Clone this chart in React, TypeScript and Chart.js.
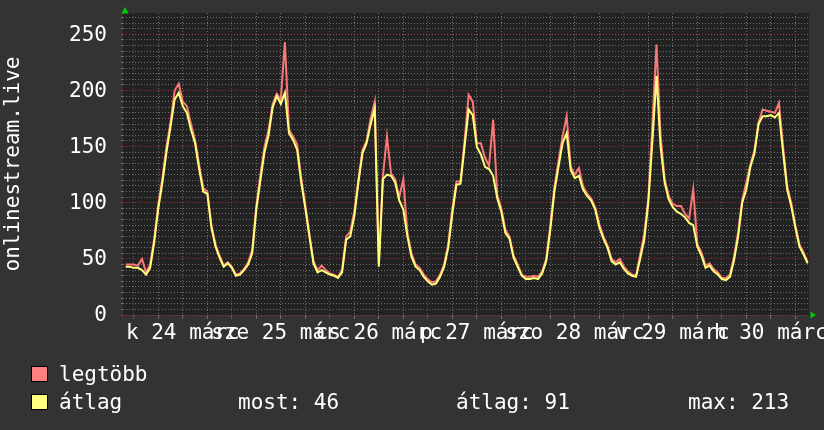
import React, { useEffect, useRef } from 'react';
import { Chart, registerables } from 'chart.js';

Chart.register(...registerables);

// ---- data (hourly samples, hour 0 = 24 March 00:00) ----
const FIRST_HOUR = -2;
const X_MIN = -2.65;
const X_MAX = 165.35;
const Y_MAX = 269;

const dayLabels = ['k 24 márc', 'sze 25 márc', 'cs 26 márc', 'p 27 márc', 'szo 28 márc', 'v 29 márc', 'h 30 márc'];
const dayNoonHours = [12, 36, 60, 84, 108, 132, 156];
const yLabelValues = [0, 50, 100, 150, 200, 250];

const avgValues = [
  43, 43, 42, 42, 40, 36, 42, 65, 95, 118, 145, 168,
  192, 198, 186, 180, 165, 153, 130, 110, 108, 78, 61, 51,
  43, 46, 42, 35, 36, 40, 45, 55, 94, 120, 145, 160,
  185, 195, 188, 198, 162, 156, 147, 118, 95, 70, 46, 38,
  40, 38, 36, 35, 33, 38, 67, 70, 88, 118, 144, 153,
  170, 184, 43, 121, 125, 124, 118, 102, 94, 70, 52, 43,
  40, 34, 30, 27, 28, 34, 43, 60, 90, 116, 117, 150,
  183, 178, 150, 143, 132, 130, 124, 104, 92, 73, 68, 51,
  43, 35, 32, 32, 33, 32, 37, 48, 76, 110, 132, 153,
  162, 129, 122, 124, 112, 106, 102, 94, 78, 68, 60, 48,
  45, 47, 41, 37, 35, 34, 50, 67, 100, 155, 213, 150,
  118, 103, 96, 92, 90, 87, 82, 80, 61, 53, 42, 44,
  39, 36, 32, 31, 34, 49, 70, 100, 112, 132, 144, 170,
  177, 177, 178, 176, 180, 145, 112, 97, 78, 61, 54, 46,
];

const maxValues = [
  45, 45, 45, 44, 50, 38, 45, 68, 99, 122, 150, 172,
  200, 206, 190, 186, 170, 156, 134, 113, 110, 80, 63, 53,
  44, 47, 43, 36, 37, 41, 47, 58, 97, 125, 150, 165,
  188, 197, 192, 243, 165, 159, 152, 122, 98, 72, 48, 40,
  44, 40, 37, 36, 34, 40, 70, 74, 92, 121, 147, 155,
  175, 190, 45, 124, 159, 126, 121, 105, 121, 73, 55, 45,
  42, 36, 32, 29, 30, 36, 45, 63, 95, 119, 119, 155,
  196, 190, 153, 153, 140, 133, 174, 107, 95, 76, 70, 53,
  45, 36, 34, 34, 35, 34, 39, 50, 80, 114, 137, 159,
  177, 132, 125, 131, 115, 108, 104, 96, 81, 70, 62, 50,
  47, 50, 43, 39, 36, 35, 54, 72, 104, 170, 241, 160,
  121, 106, 99, 97, 97, 90, 86, 112, 63, 56, 44, 46,
  41, 38, 33, 33, 36, 52, 74, 103, 118, 134, 147, 172,
  183, 182, 181, 180, 189, 150, 115, 100, 80, 63, 56, 47,
];

const legendNames = ['legtöbb', 'átlag'];
const legendStats = ['most: 46', 'átlag: 91', 'max: 213'];
const yAxisTitle = 'onlinestream.live';

// ---- styles ----
const FONT = "'DejaVu Sans Mono', monospace";
const BG = '#333333';
const CANVAS_BG = '#222222';
const RED = '#fa7878';
const YELLOW = '#ffff78';
const GRID_MAJOR = 'rgba(185, 55, 55, 0.85)';
const GRID_MINOR = 'rgba(125, 125, 125, 0.85)';
const ARROW = '#00cc00';
const TEXT = '#ffffff';

const decorPlugin = {
  id: 'decor',
  beforeDraw(chart: any) {
    const { ctx, chartArea: a, width, height } = chart;
    ctx.save();
    ctx.fillStyle = BG;
    ctx.fillRect(0, 0, width, height);
    ctx.fillStyle = CANVAS_BG;
    ctx.fillRect(a.left, a.top, a.right - a.left, a.bottom - a.top);
    ctx.restore();
  },
  afterDraw(chart: any) {
    const { ctx, chartArea: a, scales } = chart;
    const xs = scales.x;
    const ys = scales.y;
    ctx.save();
    // arrows
    ctx.fillStyle = ARROW;
    ctx.beginPath();
    ctx.moveTo(a.left + 2, a.top - 6);
    ctx.lineTo(a.left + 5.5, a.top + 0.5);
    ctx.lineTo(a.left - 1.5, a.top + 0.5);
    ctx.closePath();
    ctx.fill();
    ctx.beginPath();
    ctx.moveTo(a.right + 7, a.bottom);
    ctx.lineTo(a.right + 1.5, a.bottom - 3.5);
    ctx.lineTo(a.right + 1.5, a.bottom + 3.5);
    ctx.closePath();
    ctx.fill();

    ctx.fillStyle = TEXT;
    ctx.font = `21px ${FONT}`;

    // y labels
    ctx.textAlign = 'right';
    ctx.textBaseline = 'middle';
    yLabelValues.forEach((v) => {
      ctx.fillText(String(v), a.left - 16, ys.getPixelForValue(v) + 1);
    });

    // x labels (centred on noon)
    ctx.textAlign = 'center';
    ctx.textBaseline = 'alphabetic';
    dayLabels.forEach((lbl, i) => {
      const x = xs.getPixelForValue(dayNoonHours[i]);
      ctx.fillText(lbl, x, 339);
    });

    // y axis title
    ctx.save();
    ctx.translate(19, (a.top + a.bottom) / 2);
    ctx.rotate(-Math.PI / 2);
    ctx.textAlign = 'center';
    ctx.textBaseline = 'alphabetic';
    ctx.fillText(yAxisTitle, 0, 0);
    ctx.restore();

    // legend
    ctx.textAlign = 'left';
    ctx.textBaseline = 'alphabetic';
    const colors = ['#ff8080', '#ffff80'];
    const rows = [381, 409];
    colors.forEach((c, i) => {
      const top = rows[i] - 15;
      ctx.fillStyle = c;
      ctx.fillRect(31, top, 17, 16);
      ctx.strokeStyle = '#000000';
      ctx.lineWidth = 1;
      ctx.strokeRect(31.5, top + 0.5, 16, 15);
      ctx.fillStyle = TEXT;
      ctx.fillText(legendNames[i], 59, rows[i]);
    });
    const statX = [238, 456, 688];
    legendStats.forEach((s, i) => ctx.fillText(s, statX[i], 409));
    ctx.restore();
  },
};

export default function App() {
  const ref = useRef<HTMLCanvasElement | null>(null);

  useEffect(() => {
    if (!ref.current) return;
    document.body.style.margin = '0';
    const chart = new Chart(ref.current, {
      type: 'line',
      data: {
        datasets: [
          {
            label: legendNames[1],
            data: avgValues.map((v, i) => ({ x: FIRST_HOUR + i, y: v })),
            borderColor: YELLOW,
            borderWidth: 2,
            pointRadius: 0,
            tension: 0,
            fill: false,
          },
          {
            label: legendNames[0],
            data: maxValues.map((v, i) => ({ x: FIRST_HOUR + i, y: v })),
            borderColor: RED,
            borderWidth: 2,
            pointRadius: 0,
            tension: 0,
            fill: false,
          },
        ],
      },
      options: {
        animation: false,
        responsive: false,
        devicePixelRatio: 1,
        layout: { padding: { top: 13, right: 15, bottom: 0, left: 0 } },
        plugins: { legend: { display: false }, tooltip: { enabled: false }, title: { display: false } },
        scales: {
          x: {
            type: 'linear',
            min: X_MIN,
            max: X_MAX,
            afterBuildTicks: (scale: any) => {
              const t = [];
              for (let h = 0; h <= X_MAX; h += 6) t.push({ value: h });
              scale.ticks = t;
            },
            afterFit: (scale: any) => {
              scale.height = 115;
            },
            ticks: { display: false, autoSkip: false, maxRotation: 0 },
            grid: {
              color: (c: any) => (c.tick && c.tick.value % 24 === 0 ? GRID_MAJOR : GRID_MINOR),
              lineWidth: 1,
              drawTicks: true,
              tickLength: 4,
            },
            border: { display: false, dash: [1, 2] },
          },
          y: {
            type: 'linear',
            min: 0,
            max: Y_MAX,
            afterBuildTicks: (scale: any) => {
              const t = [];
              for (let v = 0; v < Y_MAX; v += 5) t.push({ value: v });
              scale.ticks = t;
            },
            afterFit: (scale: any) => {
              scale.width = 123;
            },
            ticks: { display: false, autoSkip: false },
            grid: {
              color: (c: any) => (c.tick && c.tick.value % 50 === 0 ? GRID_MAJOR : GRID_MINOR),
              lineWidth: 1,
              drawTicks: true,
              tickLength: 2,
            },
            border: { display: false, dash: [1, 2] },
          },
        },
      },
      plugins: [decorPlugin],
    } as any);
    return () => chart.destroy();
  }, []);

  return (
    <div style={{ position: 'absolute', left: 0, top: 0, width: 824, height: 430 }}>
      <canvas ref={ref} width={824} height={430} style={{ width: 824, height: 430, display: 'block' }} />
    </div>
  );
}
